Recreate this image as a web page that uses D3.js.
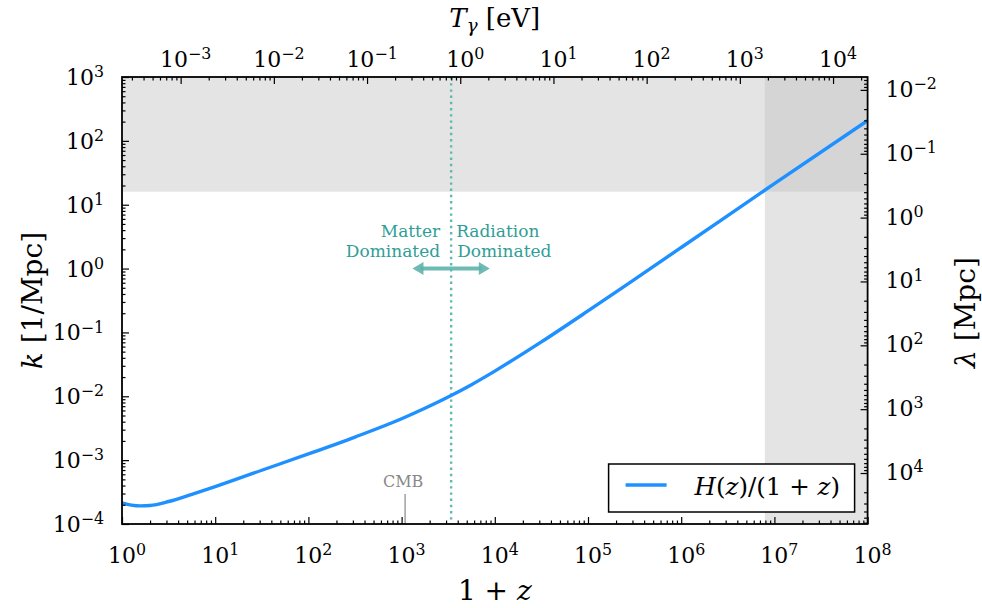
<!DOCTYPE html>
<meta charset="utf-8">
<style>
  body { margin: 0; background: #fff; }
  .axis path { display: none; }
  .axis line { stroke: #000; stroke-width: 1.2; }
</style>
<div id="chart"></div>
<script src="https://cdn.jsdelivr.net/npm/d3@7/dist/d3.min.js"></script>
<script>
// values: 1+z and H(z)/(1+z) in 1/Mpc
const onePlusZ = [1, 1.26, 1.58, 2, 3.16, 5.62, 10, 31.6, 100, 316, 1000, 1778,
                  3162, 5623, 1e4, 3.16e4, 1e5, 3.16e5, 1e6, 1e7, 1e8];
const hubbleK  = [2.15e-4, 1.98e-4, 1.92e-4, 1.95e-4, 2.25e-4, 2.92e-4, 3.85e-4, 6.95e-4,
                  1.25e-3, 2.3e-3, 4.45e-3, 6.5e-3, 9.75e-3, 1.52e-2, 2.48e-2, 7.1e-2,
                  0.217, 0.679, 2.14, 21.4, 208];

const kTicks = [-4, -3, -2, -1, 0, 1, 2, 3];      // exponents, left axis
const lambdaTicks = [-2, -1, 0, 1, 2, 3, 4];       // right axis
const zTicks = [0, 1, 2, 3, 4, 5, 6, 7, 8];        // bottom axis
const tTicks = [-3, -2, -1, 0, 1, 2, 3, 4];        // top axis

const T0 = 2.348e-4;          // eV today
const kShade = 16;            // k above this is shaded
const zShade = 7.9e6;         // 1+z above this is shaded
const zEq = 3400;             // matter-radiation equality
const zCMB = 1090;

const width = 982, height = 608;
const margin = {top: 77, right: 114.4, bottom: 84, left: 122};
const W = width - margin.left - margin.right;
const H = height - margin.top - margin.bottom;
const serif = "DejaVu Serif";

const x = d3.scaleLog().domain([1, 1e8]).range([0, W]);
const y = d3.scaleLog().domain([1e-4, 1e3]).range([H, 0]);
const xT = d3.scaleLog().domain([T0, T0 * 1e8]).range([0, W]);
const yL = d3.scaleLog().domain([2 * Math.PI / 1e3, 2 * Math.PI / 1e-4]).range([0, H]);

const svg = d3.select("#chart").append("svg")
    .attr("width", width).attr("height", height)
    .style("font-family", serif);
const g = svg.append("g").attr("transform", `translate(${margin.left},${margin.top})`);

// shaded regions
g.append("rect").attr("x", 0).attr("y", 0)
    .attr("width", W).attr("height", y(kShade)).attr("fill", "#e4e4e4");
g.append("rect").attr("x", x(zShade)).attr("y", 0)
    .attr("width", W - x(zShade)).attr("height", H).attr("fill", "#e4e4e4");
g.append("rect").attr("x", x(zShade)).attr("y", 0)
    .attr("width", W - x(zShade)).attr("height", y(kShade)).attr("fill", "#d5d5d5");

// equality line
g.append("line")
    .attr("x1", x(zEq)).attr("x2", x(zEq)).attr("y1", 0).attr("y2", H)
    .attr("stroke", "#62b8b2").attr("stroke-width", 2.4)
    .attr("stroke-dasharray", "2.4,3.8");

// arrow
const teal = "#5fb3ac";
const ay = y(1), ax0 = x(zEq / 2.6), ax1 = x(zEq * 2.6);
g.append("line").attr("x1", ax0 + 8).attr("x2", ax1 - 8).attr("y1", ay).attr("y2", ay)
    .attr("stroke", teal).attr("stroke-width", 4).attr("opacity", 0.9);
g.append("path")
    .attr("d", `M${ax0},${ay} l11,-6.5 l0,13 Z M${ax1},${ay} l-11,-6.5 l0,13 Z`)
    .attr("fill", teal).attr("opacity", 0.9);

const annColor = "#2f9e96";
[["Matter", -11, -32, "end"], ["Dominated", -11, -12, "end"],
 ["Radiation", 5, -32, "start"], ["Dominated", 6, -12, "start"]].forEach(([t, dx, dy, anchor]) =>
  g.append("text").attr("x", x(zEq) + dx).attr("y", ay + dy).attr("text-anchor", anchor)
      .attr("font-size", 17).attr("fill", annColor).text(t));

// CMB marker
g.append("line").attr("x1", x(zCMB)).attr("x2", x(zCMB)).attr("y1", H - 30).attr("y2", H)
    .attr("stroke", "#888").attr("stroke-width", 1.2);
g.append("text").attr("x", x(zCMB) - 2).attr("y", H - 37).attr("text-anchor", "middle")
    .attr("font-size", 16).attr("fill", "#888").text("CMB");

// curve
const pts = onePlusZ.map((u, i) => [u, hubbleK[i]]);
const line = d3.line().x(d => x(d[0])).y(d => y(d[1])).curve(d3.curveMonotoneX);
g.append("path").datum(pts).attr("d", line)
    .attr("fill", "none").attr("stroke", "#1e90ff").attr("stroke-width", 3.4);

// axes: ticks inward, majors and minors
function minors(scale) {
  return scale.ticks().filter(v => Math.abs(Math.log10(v) - Math.round(Math.log10(v))) > 1e-6);
}
function decades(exps) { return exps.map(e => Math.pow(10, e)); }

const axes = [
  {ax: d3.axisBottom, s: x, exps: zTicks, t: `translate(0,${H})`},
  {ax: d3.axisTop, s: xT, exps: tTicks, t: "translate(0,0)"},
  {ax: d3.axisLeft, s: y, exps: kTicks, t: "translate(0,0)"},
  {ax: d3.axisRight, s: yL, exps: lambdaTicks, t: `translate(${W},0)`}
];
axes.forEach(a => {
  g.append("g").attr("class", "axis").attr("transform", a.t)
      .call(a.ax(a.s).tickValues(decades(a.exps)).tickSize(-7).tickFormat(""));
  g.append("g").attr("class", "axis").attr("transform", a.t)
      .call(a.ax(a.s).tickValues(minors(a.s)).tickSize(-3.5).tickFormat(""));
});

// frame
g.append("rect").attr("width", W).attr("height", H)
    .attr("fill", "none").attr("stroke", "#000").attr("stroke-width", 1.8);

// tick labels with superscripts
function power(sel, e) {
  sel.append("tspan").text("10");
  sel.append("tspan").attr("dy", "-0.5em").attr("font-size", "0.72em")
      .text(e < 0 ? "\u2212" + (-e) : e);
}
const fs = 22;
zTicks.forEach(e => g.append("text").attr("x", x(Math.pow(10, e)) + 5).attr("y", H + 39)
    .attr("text-anchor", "middle").attr("font-size", fs).call(power, e));
tTicks.forEach(e => g.append("text").attr("x", xT(Math.pow(10, e)) + 5).attr("y", -10)
    .attr("text-anchor", "middle").attr("font-size", fs).call(power, e));
kTicks.forEach(e => g.append("text").attr("x", -18).attr("y", y(Math.pow(10, e)) + 8)
    .attr("text-anchor", "end").attr("font-size", fs).call(power, e));
lambdaTicks.forEach(e => g.append("text").attr("x", W + 18).attr("y", yL(Math.pow(10, e)) + 7)
    .attr("font-size", fs).call(power, e));

// axis titles
const bt = svg.append("text").attr("x", margin.left + W / 2).attr("y", 600)
    .attr("text-anchor", "middle").attr("font-size", 28);
bt.append("tspan").text("1 + ");
bt.append("tspan").attr("font-style", "italic").text("z");

const tt = svg.append("text").attr("x", margin.left + W / 2).attr("y", 27)
    .attr("text-anchor", "middle").attr("font-size", 26);
tt.append("tspan").attr("font-style", "italic").text("T");
tt.append("tspan").attr("font-style", "italic").attr("font-size", "0.7em").attr("dy", "0.3em").text("\u03b3");
tt.append("tspan").attr("dy", "-0.21em").text(" [eV]");

const lt = svg.append("text").attr("transform", `translate(42,${margin.top + H / 2}) rotate(-90)`)
    .attr("text-anchor", "middle").attr("font-size", 28);
lt.append("tspan").attr("font-style", "italic").text("k");
lt.append("tspan").text(" [1/Mpc]");

const rt = svg.append("text").attr("transform", `translate(975,${margin.top + H / 2 + 12}) rotate(-90)`)
    .attr("text-anchor", "middle").attr("font-size", 28);
rt.append("tspan").attr("font-style", "italic").text("\u03bb");
rt.append("tspan").text(" [Mpc]");

// legend
const lg = g.append("g").attr("transform", `translate(${W - 259},${H - 60})`);
lg.append("rect").attr("width", 246).attr("height", 48)
    .attr("fill", "#fff").attr("stroke", "#000").attr("stroke-width", 1.5);
lg.append("line").attr("x1", 17).attr("x2", 58).attr("y1", 21).attr("y2", 21)
    .attr("stroke", "#1e90ff").attr("stroke-width", 3.4);
const lgt = lg.append("text").attr("x", 86).attr("y", 31).attr("font-size", 24.5);
lgt.append("tspan").attr("font-style", "italic").text("H");
lgt.append("tspan").text("(");
lgt.append("tspan").attr("font-style", "italic").text("z");
lgt.append("tspan").text(")/(1 + ");
lgt.append("tspan").attr("font-style", "italic").text("z");
lgt.append("tspan").text(")");
</script>
